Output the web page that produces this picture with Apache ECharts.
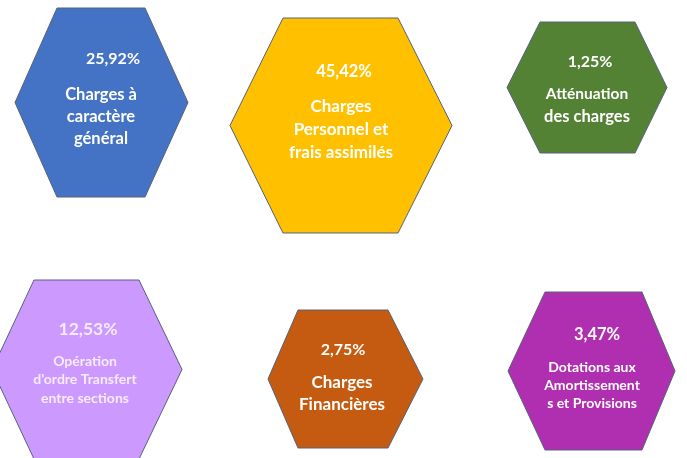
<!DOCTYPE html>
<html>
<head>
    <meta charset="utf-8">
    <title>Répartition des charges</title>
    <script type="text/javascript" src="https://cdn.jsdelivr.net/npm/echarts@6/dist/echarts.min.js"></script>
    <style>
        html, body { margin:0; padding:0; background:#fff; }
        #chart { width:687px; height:458px; }
    </style>
</head>
<body>
<div id="chart"></div>
<script type="text/javascript">
// les données
var labels = [
    'Charges à\ncaractère\ngénéral',
    'Charges\nPersonnel et\nfrais assimilés',
    'Atténuation\ndes charges',
    'Opération\nd\'ordre Transfert\nentre sections',
    'Charges\nFinancières',
    'Dotations aux\nAmortissement\ns et Provisions'
];
var percents = [25.92, 45.42, 1.25, 12.53, 2.75, 3.47];
var colors = ['#4472C4', '#FFC000', '#548235', '#CC99FF', '#C55A11', '#B02EB0'];

// mise en page des hexagones (en px du graphique)
var hexBox = [
    {l:15,  r:188, t:8,   b:197, inL:42, inR:43},
    {l:230, r:452, t:18,  b:233, inL:53, inR:54},
    {l:507, r:667, t:22,  b:153, inL:33, inR:32},
    {l:-8,  r:182, t:280, b:459, inL:42, inR:43},
    {l:268, r:423, t:310, b:448, inL:30, inR:35},
    {l:508, r:675, t:292, b:450, inL:37, inR:33}
];
// position des textes : pourcentage puis lignes du libellé
var textPos = [
    {px:113, py:59,  ps:16,   lx:101, ly:95,  lh:22,   ls:[16.5,16.5,16.5]},
    {px:344, py:72,  ps:16.5, lx:341, ly:107, lh:23,   ls:[17,17,17]},
    {px:590, py:62,  ps:16,   lx:587, ly:94,  lh:23,   ls:[15.5,16.5]},
    {px:88,  py:329, ps:17.5, lx:85,  ly:361, lh:18.5, ls:[14,14,14]},
    {px:343, py:350, ps:16,   lx:342, ly:383, lh:22,   ls:[17,17]},
    {px:597, py:335, ps:16.5, lx:592, ly:367, lh:18,   ls:[14,14,14]}
];

var FONT = 'Lato, "Open Sans", sans-serif';

function fmtPct(v){
    return v.toFixed(2).replace('.', ',') + '%';
}

function renderHex(params, api){
    var i = api.value(0);
    var h = hexBox[i];
    var midY = (h.t + h.b) / 2;
    var pts = [
        [h.l, midY], [h.l + h.inL, h.t], [h.r - h.inR, h.t],
        [h.r, midY], [h.r - h.inR, h.b], [h.l + h.inL, h.b]
    ].map(function(p){ return api.coord(p); });

    var tp = textPos[i];
    var txtColor = i === 3 ? '#F6ECFF' : '#FFFFFF';
    var children = [{
        type:'polygon',
        shape:{points:pts},
        style:{fill:colors[i], stroke:'#56627a', lineWidth:1}
    }];
    var pc = api.coord([tp.px, tp.py]);
    children.push({
        type:'text',
        x:pc[0], y:pc[1],
        style:{text:fmtPct(percents[i]), fill:txtColor, font:'bold ' + tp.ps + 'px ' + FONT,
               align:'center', verticalAlign:'middle'}
    });
    labels[i].split('\n').forEach(function(line, k){
        var c = api.coord([tp.lx, tp.ly + k * tp.lh]);
        children.push({
            type:'text',
            x:c[0], y:c[1],
            style:{text:line, fill:txtColor, font:'bold ' + tp.ls[k] + 'px ' + FONT,
                   align:'center', verticalAlign:'middle'}
        });
    });
    return {type:'group', children:children};
}

var myChart = echarts.init(document.getElementById('chart'));
myChart.setOption({
    backgroundColor:'#ffffff',
    animation:false,
    grid:{left:0, right:0, top:0, bottom:0},
    xAxis:{type:'value', min:0, max:687, show:false},
    yAxis:{type:'value', min:0, max:458, inverse:true, show:false},
    series:[{
        type:'custom',
        renderItem:renderHex,
        data:percents.map(function(v, i){ return [i, v]; })
    }]
});
</script>
</body>
</html>
